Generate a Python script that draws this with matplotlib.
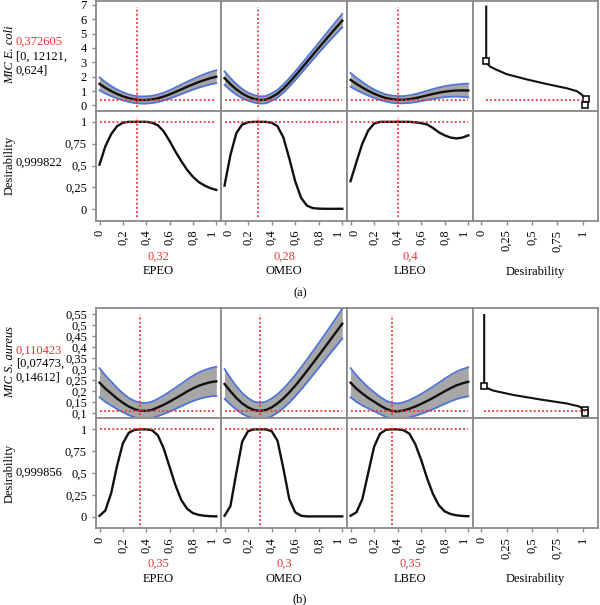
import matplotlib.pyplot as plt
import matplotlib.transforms as mtransforms
import numpy as np

plt.rcParams['font.family'] = ['Liberation Serif', 'DejaVu Serif']

# factor grid (0 .. 1)
x = np.linspace(0, 1, 21)
factors = ['EPEO', 'OMEO', 'LBEO']

# ---- (a) MIC E. coli ----
a_settings = [0.32, 0.28, 0.4]
a_pred = 0.372605
a_desir = 0.999822
a_mean = [
    [1.50, 1.23, 1.00, 0.80, 0.64, 0.51, 0.42, 0.38, 0.38, 0.42, 0.50, 0.62, 0.77, 0.94, 1.12, 1.30, 1.47, 1.63, 1.77, 1.90, 2.00],
    [1.90, 1.48, 1.12, 0.83, 0.61, 0.46, 0.38, 0.40, 0.58, 0.82, 1.18, 1.60, 2.06, 2.54, 3.03, 3.52, 4.01, 4.49, 4.97, 5.44, 5.90],
    [1.78, 1.50, 1.25, 1.02, 0.82, 0.65, 0.52, 0.44, 0.40, 0.40, 0.44, 0.51, 0.60, 0.70, 0.80, 0.89, 0.96, 1.01, 1.04, 1.05, 1.04],
]
a_hi = [
    [1.95, 1.63, 1.35, 1.11, 0.92, 0.77, 0.67, 0.63, 0.63, 0.67, 0.76, 0.89, 1.06, 1.25, 1.45, 1.65, 1.84, 2.02, 2.18, 2.33, 2.45],
    [2.37, 1.90, 1.49, 1.15, 0.89, 0.72, 0.63, 0.65, 0.84, 1.09, 1.46, 1.89, 2.36, 2.85, 3.35, 3.85, 4.36, 4.86, 5.37, 5.87, 6.37],
    [2.26, 1.93, 1.63, 1.35, 1.11, 0.92, 0.77, 0.69, 0.65, 0.65, 0.70, 0.79, 0.90, 1.02, 1.14, 1.25, 1.34, 1.41, 1.46, 1.50, 1.52],
]
a_lo = [
    [1.05, 0.83, 0.65, 0.49, 0.36, 0.25, 0.17, 0.13, 0.13, 0.17, 0.24, 0.35, 0.48, 0.63, 0.79, 0.95, 1.10, 1.24, 1.36, 1.47, 1.55],
    [1.43, 1.06, 0.75, 0.51, 0.33, 0.20, 0.13, 0.15, 0.32, 0.55, 0.90, 1.31, 1.76, 2.23, 2.71, 3.19, 3.66, 4.12, 4.57, 5.01, 5.43],
    [1.30, 1.07, 0.87, 0.69, 0.53, 0.38, 0.27, 0.19, 0.15, 0.15, 0.18, 0.23, 0.30, 0.38, 0.46, 0.53, 0.58, 0.61, 0.62, 0.60, 0.56],
]
a_dcurve = [
    [0.51, 0.72, 0.86, 0.95, 0.99, 1.0, 1.0, 1.0, 1.0, 0.99, 0.96, 0.89, 0.78, 0.66, 0.55, 0.45, 0.37, 0.31, 0.27, 0.24, 0.22],
    [0.27, 0.62, 0.87, 0.97, 0.995, 1.0, 1.0, 1.0, 0.99, 0.95, 0.82, 0.58, 0.32, 0.13, 0.04, 0.012, 0.006, 0.004, 0.004, 0.004, 0.004],
    [0.32, 0.54, 0.75, 0.90, 0.98, 1.0, 1.0, 1.0, 1.0, 1.0, 1.0, 0.995, 0.985, 0.97, 0.93, 0.88, 0.845, 0.82, 0.81, 0.82, 0.845],
]
a_fn_d = [0.05, 0.05, 0.06, 0.09, 0.14, 0.25, 0.45, 0.64, 0.84, 0.94, 0.99, 1.03]
a_fn_y = [6.88, 3.12, 2.90, 2.70, 2.52, 2.18, 1.81, 1.50, 1.20, 1.00, 0.76, 0.42]
a_sq_d = [0.05, 1.03, 1.02]
a_sq_y = [3.12, 0.42, 0.0]
a_yticks = [0, 1, 2, 3, 4, 5, 6, 7]
a_ylim = (-0.35, 7.3)

# ---- (b) MIC S. aureus ----
b_settings = [0.35, 0.3, 0.35]
b_pred = 0.110423
b_desir = 0.999856
b_mean = [
    [0.239, 0.212, 0.190, 0.167, 0.148, 0.131, 0.119, 0.112, 0.111, 0.116, 0.127, 0.139, 0.153, 0.168, 0.183, 0.199, 0.213, 0.225, 0.234, 0.241, 0.245],
    [0.233, 0.200, 0.170, 0.145, 0.127, 0.115, 0.111, 0.115, 0.127, 0.145, 0.168, 0.195, 0.225, 0.258, 0.292, 0.327, 0.362, 0.398, 0.434, 0.470, 0.506],
    [0.239, 0.212, 0.190, 0.170, 0.153, 0.136, 0.121, 0.111, 0.109, 0.113, 0.121, 0.131, 0.143, 0.156, 0.170, 0.185, 0.200, 0.214, 0.227, 0.236, 0.243],
]
b_hi = [
    [0.305, 0.272, 0.244, 0.215, 0.191, 0.170, 0.156, 0.148, 0.147, 0.153, 0.166, 0.181, 0.198, 0.216, 0.234, 0.253, 0.270, 0.285, 0.296, 0.305, 0.311],
    [0.300, 0.260, 0.223, 0.192, 0.169, 0.153, 0.148, 0.153, 0.167, 0.187, 0.212, 0.241, 0.273, 0.308, 0.344, 0.381, 0.418, 0.456, 0.495, 0.534, 0.573],
    [0.305, 0.272, 0.244, 0.218, 0.196, 0.175, 0.158, 0.147, 0.145, 0.150, 0.160, 0.173, 0.188, 0.204, 0.221, 0.239, 0.257, 0.274, 0.289, 0.300, 0.309],
]
b_lo = [
    [0.173, 0.152, 0.136, 0.119, 0.105, 0.092, 0.082, 0.076, 0.075, 0.079, 0.088, 0.097, 0.108, 0.120, 0.132, 0.145, 0.156, 0.165, 0.172, 0.177, 0.179],
    [0.166, 0.140, 0.117, 0.098, 0.085, 0.077, 0.074, 0.077, 0.087, 0.103, 0.124, 0.149, 0.177, 0.208, 0.240, 0.273, 0.306, 0.340, 0.373, 0.406, 0.439],
    [0.173, 0.152, 0.136, 0.122, 0.110, 0.097, 0.084, 0.075, 0.073, 0.076, 0.082, 0.089, 0.098, 0.108, 0.119, 0.131, 0.143, 0.154, 0.165, 0.172, 0.177],
]
b_dcurve = [
    [0.01, 0.07, 0.27, 0.58, 0.84, 0.96, 0.995, 1.0, 1.0, 0.99, 0.93, 0.78, 0.57, 0.36, 0.19, 0.09, 0.04, 0.02, 0.01, 0.005, 0.003],
    [0.01, 0.12, 0.50, 0.86, 0.98, 1.0, 1.0, 1.0, 0.98, 0.87, 0.55, 0.20, 0.05, 0.01, 0.003, 0.003, 0.003, 0.003, 0.003, 0.003, 0.003],
    [0.01, 0.05, 0.20, 0.50, 0.80, 0.95, 0.995, 1.0, 1.0, 0.99, 0.95, 0.83, 0.65, 0.44, 0.26, 0.13, 0.06, 0.03, 0.015, 0.008, 0.005],
]
b_fn_d = [0.03, 0.03, 0.05, 0.08, 0.12, 0.32, 0.58, 0.84, 0.96, 1.02]
b_fn_y = [0.545, 0.224, 0.217, 0.210, 0.203, 0.183, 0.163, 0.145, 0.132, 0.115]
b_sq_d = [0.03, 1.02, 1.02]
b_sq_y = [0.224, 0.115, 0.10]
b_yticks = [0.1, 0.15, 0.2, 0.25, 0.3, 0.35, 0.4, 0.45, 0.5, 0.55]
b_ylim = (0.079, 0.577)

x_ticks = [0, 0.2, 0.4, 0.6, 0.8, 1]
d_ticks = [0, 0.25, 0.5, 0.75, 1]

RED = '#f03232'
GRAY = '#8a8a8a'
BLUE = '#4f74d8'
BAND = '#a6a6a6'
W, H = 600, 605
cols = [(96, 221), (221, 347), (347, 473), (473, 598)]


def fmt(v):
    return ('%g' % v).replace('.', ',')


def ax_at(fig, x0, y0, x1, y1):
    return fig.add_axes([x0 / W, 1 - y1 / H, (x1 - x0) / W, (y1 - y0) / H])


def style(ax):
    for s in ax.spines.values():
        s.set_color(GRAY)
        s.set_linewidth(1.3)
    ax.tick_params(colors=GRAY, labelcolor='black', length=3, width=1, labelsize=9)
    ax.set_xticks([])
    ax.set_yticks([])


def red_lines(ax, xv, yv, x0, x1):
    ax.axvline(xv, ymin=0.03, ymax=0.94, color=RED, ls=(0, (1, 1.3)), lw=1.3)
    ax.hlines(yv, x0, x1, color=RED, ls=(0, (1, 1.3)), lw=1.3)


def ftext(x, y, s, **kw):
    plt.gcf().text(x / W, 1 - y / H, s, **kw)


def nudge(fig, label, ha, dx):
    # keep neighbouring rotated tick labels from sitting on top of each other
    label.set_ha(ha)
    label.set_transform(label.get_transform() +
                        mtransforms.ScaledTranslation(dx / 100, 0, fig.dpi_scale_trans))


def panel(fig, top, settings, pred, desir, mean, hi, lo, dcurve, fn_d, fn_y, sq_d, sq_y,
          yticks, ylim, clip):
    r1 = (top, top + 110)
    r2 = (top + 110, top + 220)
    for i in range(3):
        c = cols[i]
        ax = ax_at(fig, c[0], r1[0], c[1], r1[1])
        style(ax)
        ax.fill_between(x, lo[i], hi[i], color=BAND, lw=0, clip_on=clip)
        ax.plot(x, lo[i], color=BLUE, lw=1.3, clip_on=clip)
        ax.plot(x, hi[i], color=BLUE, lw=1.3, clip_on=clip)
        ax.plot(x, mean[i], color='#111111', lw=1.7)
        red_lines(ax, settings[i], pred, 0, 1)
        ax.set_xlim(-0.03, 1.04)
        ax.set_ylim(*ylim)
        if i == 0:
            ax.set_yticks(yticks)
            ax.set_yticklabels([fmt(v) for v in yticks])

        ax2 = ax_at(fig, c[0], r2[0], c[1], r2[1])
        style(ax2)
        ax2.plot(x, dcurve[i], color='#111111', lw=1.7)
        red_lines(ax2, settings[i], desir, 0, 1)
        ax2.set_xlim(-0.03, 1.04)
        ax2.set_ylim(-0.13, 1.13)
        ax2.set_xticks(x_ticks)
        labels = ax2.set_xticklabels([fmt(v) for v in x_ticks], rotation=90)
        if i > 0:
            nudge(fig, labels[0], 'left', -2)
        nudge(fig, labels[-1], 'right', 2)
        if i == 0:
            ax2.set_yticks([0, 0.25, 0.5, 0.75, 1])
            ax2.set_yticklabels([fmt(v) for v in [0, 0.25, 0.5, 0.75, 1]])
        cx = (c[0] + c[1]) / 2
        ftext(cx, top + 256, fmt(settings[i]), color=RED, ha='center', va='center', fontsize=9)
        ftext(cx, top + 271, factors[i], ha='center', va='center', fontsize=9)

    c = cols[3]
    ax = ax_at(fig, c[0], r1[0], c[1], r1[1])
    style(ax)
    ax.plot(fn_d, fn_y, color='#111111', lw=1.5)
    ax.plot(sq_d, sq_y, 's', mfc='white', mec='#111111', ms=4.5, mew=1.2, clip_on=False)
    ax.hlines(pred, fn_d[0], sq_d[1], color=RED, ls=(0, (1, 1.3)), lw=1.3)
    ax.set_xlim(-0.08, 1.15)
    ax.set_ylim(*ylim)
    ax2 = ax_at(fig, c[0], r2[0], c[1], r2[1])
    style(ax2)
    ax2.set_xlim(-0.08, 1.15)
    ax2.set_xticks(d_ticks)
    ax2.set_xticklabels([fmt(v) for v in d_ticks], rotation=90)
    ftext((c[0] + c[1]) / 2, top + 271, 'Desirability', ha='center', va='center', fontsize=9)


fig = plt.figure(figsize=(6, 6.05), dpi=100)

panel(fig, 0.5, a_settings, a_pred, a_desir, a_mean, a_hi, a_lo, a_dcurve,
      a_fn_d, a_fn_y, a_sq_d, a_sq_y, a_yticks, a_ylim, True)
panel(fig, 308, b_settings, b_pred, b_desir, b_mean, b_hi, b_lo, b_dcurve,
      b_fn_d, b_fn_y, b_sq_d, b_sq_y, b_yticks, b_ylim, False)

# left-hand readouts
ftext(10, 55, 'MIC E. coli', rotation=90, ha='center', va='center', fontsize=9, style='italic')
ftext(16, 42, '0,372605', color=RED, ha='left', va='center', fontsize=9)
ftext(16, 57, '[0, 12121,', ha='left', va='center', fontsize=9)
ftext(16, 71, '0,624]', ha='left', va='center', fontsize=9)
ftext(10, 165, 'Desirability', rotation=90, ha='center', va='center', fontsize=9)
ftext(39, 163, fmt(a_desir), ha='center', va='center', fontsize=9)

ftext(10, 362, 'MIC S. aureus', rotation=90, ha='center', va='center', fontsize=9, style='italic')
ftext(16, 351, '0,110423', color=RED, ha='left', va='center', fontsize=9)
ftext(16, 364, '[0,07473,', ha='left', va='center', fontsize=9)
ftext(16, 378, '0,14612]', ha='left', va='center', fontsize=9)
ftext(10, 473, 'Desirability', rotation=90, ha='center', va='center', fontsize=9)
ftext(39, 473, fmt(b_desir), ha='center', va='center', fontsize=9)

ftext(300, 293, '(a)', ha='center', va='center', fontsize=9)
ftext(300, 599, '(b)', ha='center', va='center', fontsize=9)

fig.savefig('out.png', dpi=100)
